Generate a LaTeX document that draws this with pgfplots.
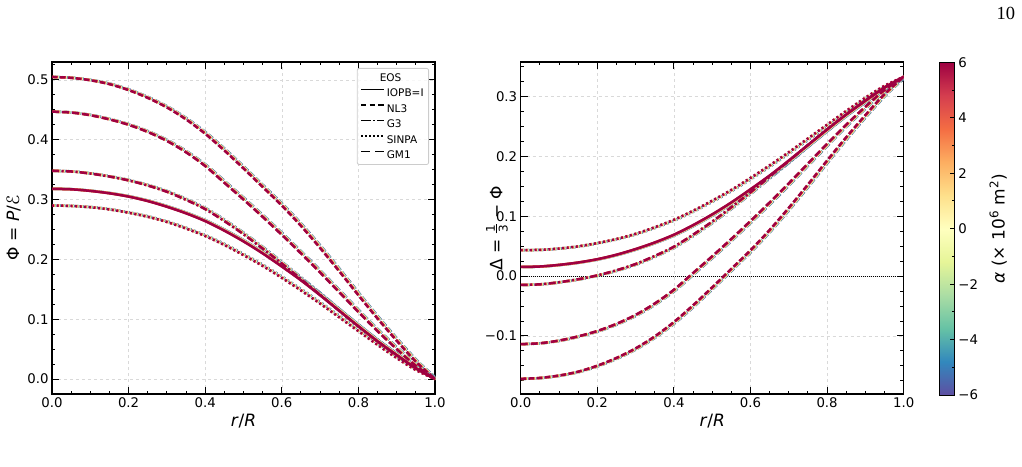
\documentclass[border=0pt]{standalone}
\usepackage{pgfplots}
\usepackage{pgfplotstable}
\pgfplotsset{compat=1.18}
\usepackage{fontspec}
\setmainfont{DejaVu Sans}
\newfontfamily\pagefont{Liberation Serif}

% small stacked 1/3 in the text font
\newcommand\onethird{\raisebox{-5.2pt}{\vbox{%
  \hbox to 9pt{\hss\fontsize{12}{12}\selectfont 1\hss}%
  \kern1.2pt\hrule height 0.9pt\kern1.6pt
  \hbox to 9pt{\hss\fontsize{12}{12}\selectfont 3\hss}}}}

% Spectral (reversed) shades for alpha = -6, -4, ..., 6
\definecolor{am6}{RGB}{94,79,162}
\definecolor{am4}{RGB}{85,175,173}
\definecolor{am2}{RGB}{191,229,160}
\definecolor{a0}{RGB}{255,255,191}
\definecolor{ap2}{RGB}{253,191,111}
\definecolor{ap4}{RGB}{234,93,71}
\definecolor{ap6}{RGB}{158,1,66}

% Phi = P/E profiles against r/R for each EOS
\pgfplotstableread{
r phi
0.00 0.5050
0.05 0.5035
0.10 0.4995
0.15 0.4930
0.20 0.4830
0.25 0.4700
0.30 0.4540
0.35 0.4340
0.40 0.4100
0.45 0.3820
0.50 0.3520
0.55 0.3210
0.60 0.2900
0.65 0.2560
0.70 0.2190
0.75 0.1800
0.80 0.1400
0.85 0.1010
0.90 0.0640
0.95 0.0290
1.00 0.0000
}\tabNLthree
\pgfplotstableread{
r phi
0.00 0.4470
0.05 0.4455
0.10 0.4410
0.15 0.4340
0.20 0.4250
0.25 0.4130
0.30 0.3980
0.35 0.3790
0.40 0.3560
0.45 0.3280
0.50 0.3000
0.55 0.2710
0.60 0.2410
0.65 0.2100
0.70 0.1780
0.75 0.1450
0.80 0.1120
0.85 0.0800
0.90 0.0500
0.95 0.0220
1.00 0.0000
}\tabGMone
\pgfplotstableread{
r phi
0.00 0.3480
0.05 0.3470
0.10 0.3435
0.15 0.3385
0.20 0.3320
0.25 0.3235
0.30 0.3130
0.35 0.2995
0.40 0.2840
0.45 0.2640
0.50 0.2420
0.55 0.2180
0.60 0.1930
0.65 0.1670
0.70 0.1410
0.75 0.1140
0.80 0.0880
0.85 0.0630
0.90 0.0400
0.95 0.0180
1.00 0.0000
}\tabGthree
\pgfplotstableread{
r phi
0.00 0.3180
0.05 0.3172
0.10 0.3145
0.15 0.3105
0.20 0.3050
0.25 0.2975
0.30 0.2880
0.35 0.2770
0.40 0.2640
0.45 0.2480
0.50 0.2300
0.55 0.2100
0.60 0.1880
0.65 0.1650
0.70 0.1400
0.75 0.1140
0.80 0.0880
0.85 0.0630
0.90 0.0400
0.95 0.0180
1.00 0.0000
}\tabIOPB
\pgfplotstableread{
r phi
0.00 0.2900
0.05 0.2893
0.10 0.2872
0.15 0.2835
0.20 0.2780
0.25 0.2712
0.30 0.2625
0.35 0.2515
0.40 0.2390
0.45 0.2240
0.50 0.2070
0.55 0.1890
0.60 0.1690
0.65 0.1480
0.70 0.1260
0.75 0.1030
0.80 0.0800
0.85 0.0570
0.90 0.0350
0.95 0.0150
1.00 0.0000
}\tabSINPA

\tikzset{
  curve/.style={line width=2.5pt, smooth, line cap=butt, line join=round},
  lsIOPB/.style={solid},
  lsNL/.style={dash pattern=on 5.5pt off 2.5pt},
  lsGthree/.style={dash pattern=on 7pt off 2.5pt on 2pt off 2.5pt},
  lsSINPA/.style={dash pattern=on 2pt off 2.6pt},
  lsGM/.style={dash pattern=on 7pt off 3pt},
}

% one EOS drawn for alpha = -6 ... 4 (the alpha = 6 curve is drawn last, on top)
\newcommand\fringe[3]{%
  \addplot[forget plot, curve, am6, #2, xshift=2.4pt] table[x=r, #3]{#1};
  \addplot[forget plot, curve, am4, #2, xshift=2.0pt] table[x=r, #3]{#1};
  \addplot[forget plot, curve, am2, #2, xshift=1.6pt] table[x=r, #3]{#1};
  \addplot[forget plot, curve, a0,  #2, xshift=1.2pt] table[x=r, #3]{#1};
  \addplot[forget plot, curve, ap2, #2, xshift=0.8pt] table[x=r, #3]{#1};
  \addplot[forget plot, curve, ap4, #2, xshift=0.4pt] table[x=r, #3]{#1};
}
\newcommand\topcurve[3]{%
  \addplot[forget plot, curve, ap6, #2] table[x=r, #3]{#1};
}
\newcommand\allcurves[1]{%
  \fringe{\tabNLthree}{lsNL}{#1}
  \fringe{\tabGMone}{lsGM}{#1}
  \fringe{\tabGthree}{lsGthree}{#1}
  \fringe{\tabIOPB}{lsIOPB}{#1}
  \fringe{\tabSINPA}{lsSINPA}{#1}
  \topcurve{\tabNLthree}{lsNL}{#1}
  \topcurve{\tabGMone}{lsGM}{#1}
  \topcurve{\tabGthree}{lsGthree}{#1}
  \topcurve{\tabIOPB}{lsIOPB}{#1}
  \topcurve{\tabSINPA}{lsSINPA}{#1}
}

\pgfplotsset{
  colormap={spectralr}{rgb255(0cm)=(94,79,162); rgb255(1cm)=(50,136,189);
    rgb255(2cm)=(102,194,165); rgb255(3cm)=(171,221,164); rgb255(4cm)=(230,245,152);
    rgb255(5cm)=(255,255,191); rgb255(6cm)=(254,224,139); rgb255(7cm)=(253,174,97);
    rgb255(8cm)=(244,109,67); rgb255(9cm)=(213,62,79); rgb255(10cm)=(158,1,66)},
  panel/.style={
    scale only axis, width=383pt, height=332pt,
    xmin=0, xmax=1,
    xtick={0,0.2,0.4,0.6,0.8,1},
    xticklabels={0.0,0.2,0.4,0.6,0.8,1.0},
    minor x tick num=3,
    tick align=inside,
    xtick pos=both, ytick pos=both,
    major tick length=7pt, minor tick length=3.5pt,
    every tick/.style={black, line width=1pt},
    grid=major,
    major grid style={dashed, black!15, line width=0.6pt},
    axis line style={line width=1.3pt, black},
    tick label style={font=\fontsize{13.3}{16}\selectfont, black},
    every axis x label/.style={at={(axis description cs:0.5,-0.083)}, anchor=center,
      font=\fontsize{17}{20}\selectfont},
  },
}

\begin{document}
\begin{tikzpicture}[x=1pt,y=1pt]
\useasboundingbox (0,0) rectangle (1022,466);
\node[font=\pagefont\fontsize{18.5}{20}\selectfont, anchor=base] at (1005.8,446) {10};

\begin{axis}[panel,
  at={(52pt,72pt)}, anchor=south west,
  ymin=-0.025, ymax=0.530,
  ytick={0,0.1,0.2,0.3,0.4,0.5},
  yticklabels={0.0,0.1,0.2,0.3,0.4,0.5},
  minor ytick={0.025,0.05,0.075,0.125,0.15,0.175,0.225,0.25,0.275,0.325,0.35,0.375,0.425,0.45,0.475,0.525},
  xlabel={\textit{r}/\textit{R}},
  ylabel={Φ = \textit{P}/ℰ},
  every axis y label/.style={at={(axis description cs:-0.100,0.5)}, anchor=center, rotate=90,
    font=\fontsize{17}{20}\selectfont},
  legend image code/.code={\draw[#1] (0pt,3.5pt) -- (23pt,3.5pt);},
  legend style={at={(axis description cs:1,1)}, anchor=north east,
    xshift=-6pt, yshift=-6pt, draw=black!20, line width=0.8pt, rounded corners=2pt,
    fill=white, fill opacity=0.8, text opacity=1,
    font=\fontsize{10.5}{12}\selectfont,
    nodes={text height=7.6pt, text depth=0pt, inner sep=2pt},
    row sep=3.9pt, inner xsep=3pt, inner ysep=3.5pt},
  legend cell align=left,
]
\addlegendimage{empty legend}\addlegendentry{\hspace*{-7pt}EOS}
\addlegendimage{black, line width=1.6pt, solid}\addlegendentry{IOPB=I}
\addlegendimage{black, line width=1.6pt, dash pattern=on 5.3pt off 3.3pt}\addlegendentry{NL3}
\addlegendimage{black, line width=1.6pt, dash pattern=on 9.6pt off 2.4pt on 1.5pt off 2.4pt}\addlegendentry{G3}
\addlegendimage{black, line width=1.6pt, dash pattern=on 1.5pt off 2.5pt}\addlegendentry{SINPA}
\addlegendimage{black, line width=1.6pt, dash pattern=on 9pt off 5pt}\addlegendentry{GM1}
\allcurves{y=phi}
\end{axis}

\begin{axis}[panel,
  at={(520.7pt,72pt)}, anchor=south west,
  ymin=-0.197, ymax=0.358,
  ytick={-0.1,0,0.1,0.2,0.3},
  yticklabels={−0.1,0.0,0.1,0.2,0.3},
  minor ytick={-0.175,-0.15,-0.125,-0.075,-0.05,-0.025,0.025,0.05,0.075,0.125,0.15,0.175,0.225,0.25,0.275,0.325,0.35},
  xlabel={\textit{r}/\textit{R}},
  ylabel={Δ = \onethird\ − Φ},
  every axis y label/.style={at={(axis description cs:-0.062,0.5)}, anchor=center, rotate=90,
    font=\fontsize{17}{20}\selectfont},
  colormap name=spectralr,
  point meta min=-6, point meta max=6,
  colorbar,
  colorbar style={
    scale only axis, width=15pt, height=332.7pt,
    at={(parent axis.south east)}, anchor=south west,
    xshift=27.7pt, yshift=-1pt,
    ytick={-6,-4,-2,0,2,4,6},
    yticklabels={−6,−4,−2,0,2,4,6},
    minor ytick={-5,-3,-1,1,3,5},
    ytick pos=right, yticklabel pos=right,
    tick align=inside,
    major tick length=5pt, minor tick length=3pt,
    every tick/.style={black, line width=0.9pt},
    axis line style={line width=1pt, black},
    tick label style={font=\fontsize{13.3}{16}\selectfont, black},
    ylabel={\textit{α} (× 10\textsuperscript{6} m\textsuperscript{2})},
    every axis y label/.style={at={(axis description cs:3.88,0.5)}, anchor=center, rotate=90,
      font=\fontsize{17}{20}\selectfont},
  },
]
\addplot[forget plot, black, line width=0.7pt, dash pattern=on 1pt off 1pt, sharp plot] coordinates {(0,0) (1,0)};
\allcurves{y expr={1/3-\thisrow{phi}}}
\end{axis}
\end{tikzpicture}
\end{document}
